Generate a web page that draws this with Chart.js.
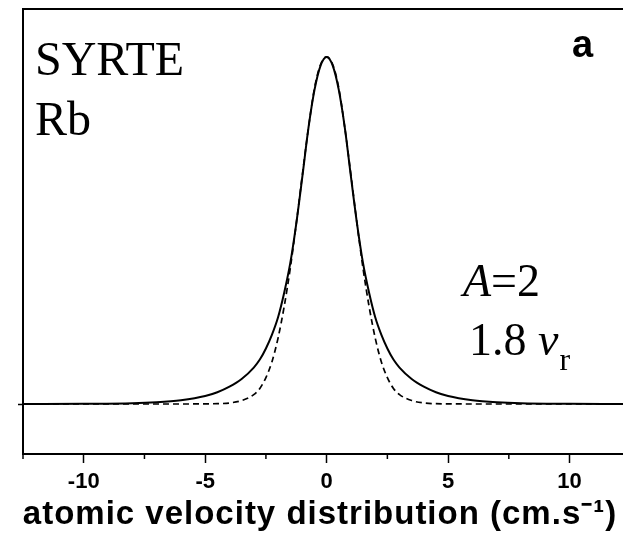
<!DOCTYPE html>
<html>
<head>
<meta charset="utf-8">
<script src="https://cdn.jsdelivr.net/npm/chart.js@4/dist/chart.umd.min.js"></script>
<style>
  html, body { margin: 0; padding: 0; background: #fff; }
  #wrap { width: 623px; height: 534px; }
</style>
</head>
<body>
<div id="wrap"><canvas id="myChart" width="623" height="534"></canvas></div>
<script>
// velocity (cm/s) sample points
var velocity = [-12.5, -10, -8, -7, -6, -5, -4.5, -4, -3.5, -3, -2.75, -2.5, -2.25, -2, -1.75, -1.5, -1.25, -1, -0.75, -0.5, -0.25, 0,
  0.25, 0.5, 0.75, 1, 1.25, 1.5, 1.75, 2, 2.25, 2.5, 2.75, 3, 3.5, 4, 4.5, 5, 6, 7, 8, 10, 12.2];

// measured distribution (solid)
var measured = [0, 0.0005, 0.002, 0.005, 0.011, 0.023, 0.034, 0.05, 0.072, 0.105, 0.128, 0.16, 0.2, 0.25, 0.32, 0.405, 0.52, 0.655, 0.795, 0.905, 0.975, 1,
  0.975, 0.905, 0.795, 0.655, 0.52, 0.405, 0.32, 0.25, 0.2, 0.16, 0.128, 0.105, 0.072, 0.05, 0.034, 0.023, 0.011, 0.005, 0.002, 0.0005, 0];

// gaussian fit (dashed)
var gaussFit = [0, 0, 0, 0, 0, 0.0005, 0.001, 0.003, 0.01, 0.027, 0.045, 0.076, 0.122, 0.19, 0.28, 0.39, 0.52, 0.66, 0.795, 0.91, 0.978, 1,
  0.978, 0.91, 0.795, 0.66, 0.52, 0.39, 0.28, 0.19, 0.122, 0.076, 0.045, 0.027, 0.01, 0.003, 0.001, 0.0005, 0, 0, 0, 0, 0];

var majorTicks = [-10, -5, 0, 5, 10];
var minorTicks = [-12.5, -7.5, -2.5, 2.5, 7.5];
var xTitle = "atomic velocity distribution (cm.s\u207B\u00B9)";

function pts(ys) {
  return velocity.map(function (v, i) { return { x: v, y: ys[i] }; });
}

var decorations = {
  id: "decorations",
  afterDraw: function (chart) {
    var c = chart.ctx;
    var area = chart.chartArea;
    var xs = chart.scales.x;
    c.save();
    c.strokeStyle = "#000";
    c.lineWidth = 2;
    // top frame line
    c.beginPath();
    c.moveTo(area.left - 1, area.top);
    c.lineTo(area.right + 1, area.top);
    c.stroke();
    // minor ticks
    c.lineWidth = 1.5;
    minorTicks.forEach(function (v) {
      var px = xs.getPixelForValue(v);
      c.beginPath();
      c.moveTo(px, area.bottom);
      c.lineTo(px, area.bottom + 5);
      c.stroke();
    });
    c.fillStyle = "#000";
    c.textBaseline = "alphabetic";
    // axis title
    c.textAlign = "center";
    c.font = "bold 33px 'Liberation Sans'";
    c.letterSpacing = "1px";
    c.fillText(xTitle, 320, 524);
    c.letterSpacing = "0px";
    // annotations
    c.textAlign = "left";
    c.font = "48px 'Liberation Serif'";
    c.fillText("SYRTE", 35, 75);
    c.fillText("Rb", 35, 135);
    c.font = "bold 38px 'Liberation Sans'";
    c.fillText("a", 572, 57);
    c.font = "italic 46px 'Liberation Serif'";
    c.fillText("A", 463, 296);
    var w = c.measureText("A").width;
    c.font = "46px 'Liberation Serif'";
    c.fillText("=2", 463 + w, 296);
    c.fillText("1.8 ", 469, 355);
    w = c.measureText("1.8 ").width;
    c.font = "italic 46px 'Liberation Serif'";
    c.fillText("v", 469 + w, 355);
    var w2 = c.measureText("v").width;
    c.font = "32px 'Liberation Serif'";
    c.fillText("r", 469 + w + w2 + 1, 370);
    c.restore();
  }
};

var ctx = document.getElementById("myChart");
var myChart = new Chart(ctx, {
  type: "line",
  data: {
    datasets: [
      {
        label: "measured",
        data: pts(measured),
        borderColor: "#000",
        borderWidth: 2,
        pointRadius: 0,
        cubicInterpolationMode: "monotone",
      },
      {
        label: "gaussian",
        data: pts(gaussFit),
        borderColor: "#000",
        borderWidth: 1.7,
        borderDash: [6, 4],
        pointRadius: 0,
        cubicInterpolationMode: "monotone",
      },
    ],
  },
  options: {
    responsive: false,
    animation: false,
    layout: { padding: { left: 18, top: 9, right: 0, bottom: 32.6 } },
    plugins: {
      legend: { display: false },
      tooltip: { enabled: false },
    },
    scales: {
      x: {
        type: "linear",
        min: -12.5,
        max: 12.2,
        afterBuildTicks: function (s) {
          s.ticks = majorTicks.map(function (v) { return { value: v }; });
        },
        grid: { drawOnChartArea: false, tickLength: 9, tickWidth: 1.5, tickColor: "#000" },
        border: { color: "#000", width: 2 },
        ticks: {
          color: "#000",
          padding: 6,
          maxRotation: 0,
          font: { family: "'Liberation Sans'", size: 22, weight: "bold" },
        },
      },
      y: {
        min: -0.144,
        max: 1.138,
        afterBuildTicks: function (s) {
          s.ticks = [{ value: 0 }];
        },
        grid: { drawOnChartArea: false, tickLength: 5, tickWidth: 1.5, tickColor: "#000" },
        border: { color: "#000", width: 2 },
        ticks: { display: false },
      },
    },
  },
  plugins: [decorations],
});
</script>
</body>
</html>
